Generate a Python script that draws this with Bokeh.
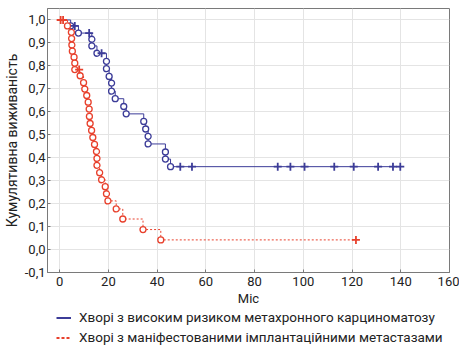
from bokeh.plotting import figure
from bokeh.layouts import column
from bokeh.models import Legend, LegendItem, CustomJSTickFormatter, FixedTicker, Range1d
from bokeh.embed import file_html
from bokeh.resources import INLINE

# Blue group: event times (circles) and survival after each event
blue_t = [4.5, 7.7, 13.2, 13.2, 15.3, 19.2, 19.2, 20.3, 21.3, 21.3, 22.8, 26.3, 27.3,
          34.5, 35.3, 36.3, 36.3, 43.4, 43.4, 45.5]
blue_s = [0.974, 0.943, 0.916, 0.887, 0.855, 0.820, 0.788, 0.754, 0.725, 0.690, 0.657,
          0.623, 0.591, 0.558, 0.525, 0.493, 0.460, 0.425, 0.394, 0.361]
blue_cens_t = [6.2, 12.1, 17.2, 49.5, 54.3, 89.5, 94.7, 100.5, 112.7, 120.7, 130.7, 136.8, 139.8]
blue_cens_s = [0.974, 0.943, 0.855, 0.361, 0.361, 0.361, 0.361, 0.361, 0.361, 0.361, 0.361, 0.361, 0.361]

# Red group
red_t = [3.2, 4.8, 4.9, 5.0, 5.2, 5.9, 6.2, 6.2, 8.4, 9.8, 10.3, 11.1, 11.7, 12.1, 12.2,
         12.5, 13.1, 13.6, 14.3, 15.1, 15.3, 15.3, 16.4, 17.2, 18.7, 19.2, 19.8, 23.2,
         25.9, 34.2, 41.5]
red_s = [0.974, 0.946, 0.919, 0.891, 0.864, 0.838, 0.812, 0.784, 0.757, 0.727, 0.699,
         0.671, 0.642, 0.612, 0.580, 0.549, 0.519, 0.488, 0.458, 0.427, 0.397, 0.367,
         0.335, 0.304, 0.274, 0.243, 0.212, 0.177, 0.133, 0.087, 0.042]
red_cens_t = [0.4, 1.4, 8.0, 121.6]
red_cens_s = [1.0, 1.0, 0.784, 0.042]

x_ticks = [0, 20, 40, 60, 80, 100, 120, 140, 160]
y_ticks = [-0.1, 0.0, 0.1, 0.2, 0.3, 0.4, 0.5, 0.6, 0.7, 0.8, 0.9, 1.0]

label_blue = "Хворі з високим ризиком метахронного карциноматозу"
label_red = "Хворі з маніфестованими імплантаційними метастазами"
x_title = "Міс"
y_title = "Кумулятивна виживаність"

BLUE = "#3c3c98"
RED = "#e8402c"
FONT = "Roboto"

p = figure(width=459, height=308, output_backend="svg", toolbar_location=None,
           x_range=Range1d(-5, 160), y_range=Range1d(-0.1, 1.05),
           min_border_left=0, min_border_right=10, min_border_top=8, min_border_bottom=0)

# step curves
bx = [0] + blue_t + [max(blue_cens_t)]
by = [1.0] + blue_s + [blue_s[-1]]
rx = [0] + red_t + [max(red_cens_t)]
ry = [1.0] + red_s + [red_s[-1]]

p.step(bx, by, mode="after", line_color=BLUE, line_width=1)
p.step(rx, ry, mode="after", line_color=RED, line_width=1, line_dash="2 2")

p.scatter(blue_t, blue_s, marker="circle", size=6, line_color=BLUE, fill_color="white", line_width=1.3)
p.scatter(red_t, red_s, marker="circle", size=6, line_color=RED, fill_color="white", line_width=1.3)
p.scatter(blue_cens_t, blue_cens_s, marker="cross", size=8, line_color=BLUE, line_width=1.8)
p.scatter(red_cens_t, red_cens_s, marker="cross", size=8, line_color=RED, line_width=1.8)

p.xaxis.ticker = FixedTicker(ticks=x_ticks)
p.yaxis.ticker = FixedTicker(ticks=y_ticks)
p.yaxis.formatter = CustomJSTickFormatter(code="return tick.toFixed(1).replace('.', ',');")
p.xaxis.axis_label = x_title
p.yaxis.axis_label = y_title

for ax in (p.xaxis[0], p.yaxis[0]):
    ax.axis_line_color = "#7a7a7a"
    ax.major_tick_line_color = "#7a7a7a"
    ax.major_tick_in = 3
    ax.major_tick_out = 0
    ax.minor_tick_line_color = None
    ax.major_label_text_font = FONT
    ax.major_label_text_font_size = "13px"
    ax.major_label_text_color = "#222222"
    ax.axis_label_text_font = FONT
    ax.axis_label_text_font_size = "13px"
    ax.axis_label_text_font_style = "normal"
    ax.axis_label_text_color = "#222222"

p.yaxis.axis_label_text_font_size = "14px"
p.xaxis.major_label_standoff = 4
p.xaxis.axis_label_standoff = 2
p.yaxis.major_label_standoff = 2
p.yaxis.axis_label_standoff = 2

p.grid.grid_line_color = "#e4e4e4"
p.grid.grid_line_width = 1
p.outline_line_color = "#7a7a7a"

# legend figure below the chart (its frame is aligned with the chart's frame)
lg = figure(width=459, height=37, output_backend="svg", toolbar_location=None,
            x_range=Range1d(0, 1), y_range=Range1d(0, 1),
            min_border_left=0, min_border_right=0, min_border_top=0, min_border_bottom=0)
lg.axis.visible = False
lg.grid.visible = False
lg.outline_line_color = None
lb = lg.line([5, 6], [5, 6], line_color=BLUE, line_width=2)
lr = lg.line([5, 6], [5, 6], line_color=RED, line_width=2, line_dash="3 2")
legend = Legend(items=[LegendItem(label=label_blue, renderers=[lb]),
                       LegendItem(label=label_red, renderers=[lr])],
                location=(9, 0), orientation="vertical",
                label_text_font=FONT, label_text_font_size="13.5px", label_text_color="#222222",
                glyph_width=15, glyph_height=15, label_standoff=8, spacing=4,
                padding=1, margin=0, border_line_color=None, background_fill_alpha=0)
lg.add_layout(legend, "center")

layout = column(p, lg, spacing=0)
open("out.html", "w").write(file_html(layout, INLINE))
